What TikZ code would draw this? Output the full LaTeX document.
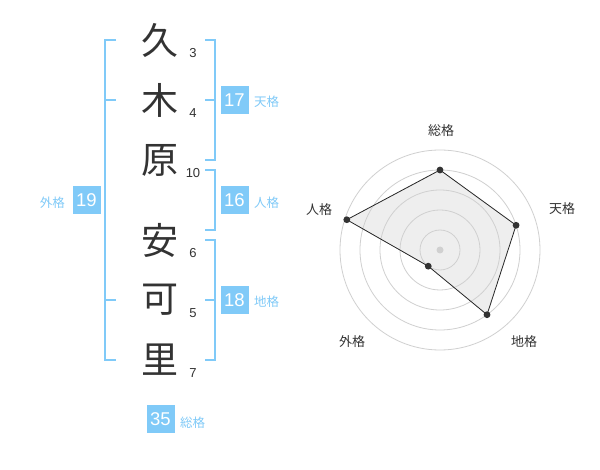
\documentclass[tikz,border=0pt]{standalone}
\usepackage{fontspec}
\setmainfont{Liberation Sans}
\newfontfamily\jpfont{Noto Sans CJK JP}
\definecolor{kakublue}{RGB}{128,202,248}
\definecolor{kanjigray}{RGB}{51,51,51}
\definecolor{ringgray}{RGB}{208,208,208}
\definecolor{areagray}{RGB}{238,238,238}
\tikzset{
  kanji/.style={font=\jpfont\fontsize{37}{37}\selectfont, text=kanjigray, inner sep=0pt},
  strokes/.style={font=\fontsize{13}{13}\selectfont, text=kanjigray, inner sep=0pt},
  kakubox/.style={fill=kakublue, text=white, minimum size=28pt, inner sep=0pt, font=\fontsize{18.5}{18.5}\selectfont},
  kakulabel/.style={font=\jpfont\fontsize{12.5}{12.5}\selectfont, text=kakublue, inner sep=0pt},
  bracket/.style={draw=kakublue, line width=2.2pt},
  axislabel/.style={font=\jpfont\fontsize{13}{13}\selectfont, text=kanjigray, inner sep=0pt}
}
\begin{document}
\begin{tikzpicture}[x=1pt, y=-1pt]
\fill[white] (0,0) rectangle (600,470);
\node[kanji] (k1) at (160,40) {久};
\node[kanji] (k2) at (160,100) {木};
\node[kanji] (k3) at (160,160) {原};
\node[kanji] (k4) at (160,240) {安};
\node[kanji] (k5) at (160,300) {可};
\node[kanji] (k6) at (160,360) {里};
\node[strokes] (s1) at (193,53) {3};
\node[strokes] (s2) at (193,113) {4};
\node[strokes] (s3) at (193,173) {10};
\node[strokes] (s4) at (193,253) {6};
\node[strokes] (s5) at (193,313) {5};
\node[strokes] (s6) at (193,373) {7};
\draw[bracket] (116,40) -- (105,40) -- (105,360) -- (116,360);
\draw[bracket] (105,100) -- (116,100);
\draw[bracket] (105,300) -- (116,300);
\draw[bracket] (205,40) -- (215,40) -- (215,160) -- (205,160);
\draw[bracket] (205,100) -- (215,100);
\draw[bracket] (205,170) -- (215,170) -- (215,230) -- (205,230);
\draw[bracket] (205,240) -- (215,240) -- (215,360) -- (205,360);
\draw[bracket] (205,300) -- (215,300);
\node[kakubox] (tenkaku) at (234.5,100) {17};
\node[kakulabel, anchor=west] at (254,101.5) {天格};
\node[kakubox] (jinkaku) at (234.5,200) {16};
\node[kakulabel, anchor=west] at (254,203) {人格};
\node[kakubox] (chikaku) at (234.5,300) {18};
\node[kakulabel, anchor=west] at (254,302) {地格};
\node[kakubox] (gaikaku) at (86.5,200) {19};
\node[kakulabel, anchor=east] at (65,203) {外格};
\node[kakubox] (soukaku) at (160.5,419) {35};
\node[kakulabel, anchor=west] at (180,422.5) {総格};
\begin{scope}[shift={(440pt,-250pt)}, y=1pt]
\coordinate (sou) at (90:80);
\coordinate (ten) at (18:80);
\coordinate (chi) at (-54:80);
\coordinate (gai) at (-126:20);
\coordinate (jin) at (162:98);
\fill[areagray] (sou) -- (ten) -- (chi) -- (gai) -- (jin) -- cycle;
\foreach \r in {20,40,60,80,100}
  \draw[ringgray, line width=0.8pt] (0,0) circle (\r);
\fill[ringgray] (0,0) circle (3.5);
\draw[black!85, line width=0.8pt] (sou) -- (ten) -- (chi) -- (gai) -- (jin) -- cycle;
\foreach \p in {sou,ten,chi,gai,jin}
  \fill[kanjigray] (\p) circle (3.4);
\end{scope}
\node[axislabel] (lsou) at (441,131) {総格};
\node[axislabel] (lten) at (562,209) {天格};
\node[axislabel] (ljin) at (319,209.5) {人格};
\node[axislabel] (lgai) at (352,342) {外格};
\node[axislabel] (lchi) at (524,342) {地格};
\end{tikzpicture}
\end{document}
